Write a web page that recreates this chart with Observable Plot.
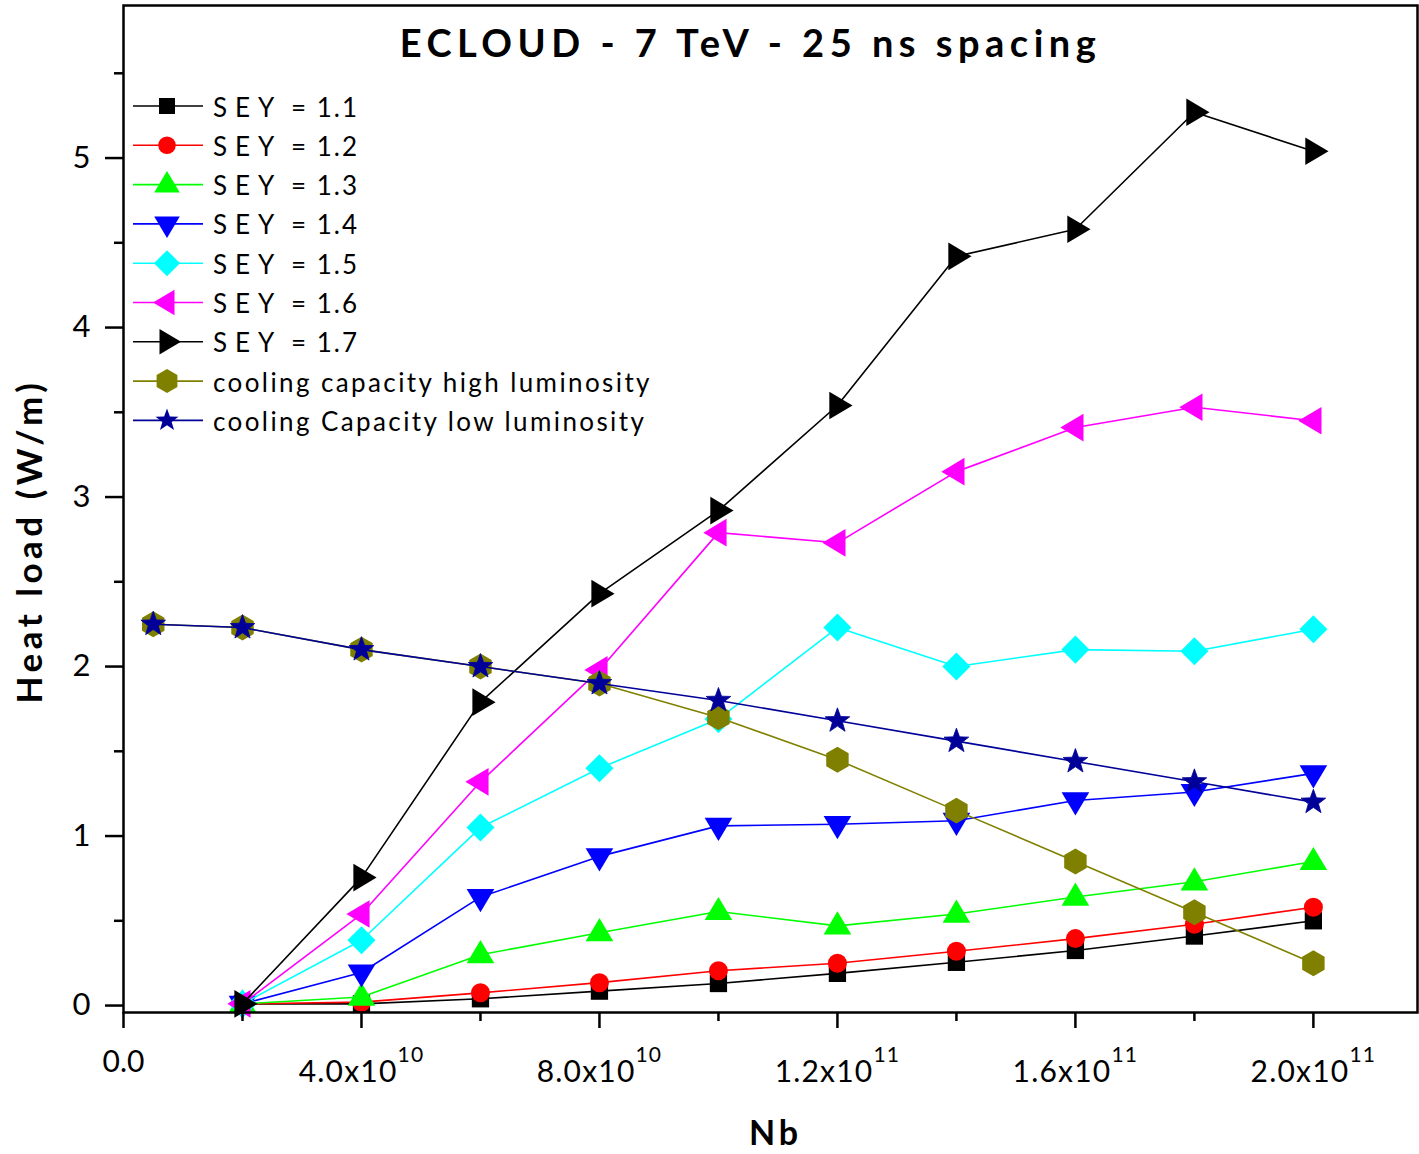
<!DOCTYPE html>
<html><head><meta charset="utf-8">
<script src="https://cdn.jsdelivr.net/npm/d3@7"></script>
<script src="https://cdn.jsdelivr.net/npm/@observablehq/plot@0.6"></script>
<style>
body{margin:0;background:#fff;}
#chart{position:relative;width:1419px;height:1154px;}
</style>
</head><body><div id="chart"></div>
<script>
// ---- data ----
const nb = [2e10, 4e10, 6e10, 8e10, 1e11, 1.2e11, 1.4e11, 1.6e11, 1.8e11, 2e11];
const sey11 = [0.01, 0.01, 0.04, 0.085, 0.13, 0.19, 0.255, 0.325, 0.41, 0.50];
const sey12 = [0.01, 0.02, 0.075, 0.135, 0.205, 0.25, 0.32, 0.395, 0.48, 0.58];
const sey13 = [0.01, 0.05, 0.30, 0.43, 0.555, 0.47, 0.54, 0.64, 0.73, 0.85];
const sey14 = [0.01, 0.195, 0.64, 0.88, 1.06, 1.07, 1.09, 1.21, 1.26, 1.37];
const sey15 = [0.01, 0.385, 1.05, 1.40, 1.69, 2.23, 2.00, 2.10, 2.09, 2.22];
const sey16 = [0.01, 0.54, 1.32, 1.98, 2.79, 2.73, 3.15, 3.41, 3.53, 3.45];
const sey17 = [0.01, 0.755, 1.79, 2.43, 2.92, 3.54, 4.42, 4.58, 5.27, 5.04];
const nbCooling = [0.5e10, 2e10, 4e10, 6e10, 8e10, 1e11, 1.2e11, 1.4e11, 1.6e11, 1.8e11, 2e11];
const coolingHigh = [2.25, 2.23, 2.10, 2.00, 1.90, 1.70, 1.45, 1.15, 0.85, 0.55, 0.25];
const coolingLow  = [2.25, 2.23, 2.10, 2.00, 1.90, 1.80, 1.68, 1.56, 1.44, 1.32, 1.20];

const seriesNames = ["SEY = 1.1","SEY = 1.2","SEY = 1.3","SEY = 1.4","SEY = 1.5","SEY = 1.6","SEY = 1.7",
  "cooling capacity high luminosity","cooling Capacity low luminosity"];
const seriesColors = ["#000000","#ff0000","#00ff00","#0000ff","#00ffff","#ff00ff","#000000","#808000","#000099"];

const xMajorTicks = [0, 4e10, 8e10, 1.2e11, 1.6e11, 2e11];
const xTickLabels = ["0.0", "4.0x10^10", "8.0x10^10", "1.2x10^11", "1.6x10^11", "2.0x10^11"];
const xMinorTicks = [2e10, 6e10, 1e11, 1.4e11, 1.8e11];
const yMajorTicks = [0, 1, 2, 3, 4, 5];
const yMinorTicks = [0.5, 1.5, 2.5, 3.5, 4.5, 5.5];

const titleText = "ECLOUD - 7 TeV - 25 ns spacing";
const xLabel = "Nb";
const yLabel = "Heat load (W/m)";

// ---- custom marker shapes ----
function mk(fn){ return {draw(ctx, size){ const k = Math.sqrt(size/Math.PI)/10; fn(ctx, k); }}; }
const symSquare = mk((c,k)=>{ c.rect(-8*k,-8*k,16*k,16*k); });
const symCircle = mk((c,k)=>{ c.moveTo(8.8*k,0); c.arc(0,0,8.8*k,0,2*Math.PI); });
const symTriUp = mk((c,k)=>{ c.moveTo(0,-13.5*k); c.lineTo(12.8*k,8*k); c.lineTo(-12.8*k,8*k); c.closePath(); });
const symTriDown = mk((c,k)=>{ c.moveTo(0,14*k); c.lineTo(12.8*k,-7.5*k); c.lineTo(-12.8*k,-7.5*k); c.closePath(); });
const symDiamond = mk((c,k)=>{ c.moveTo(0,-13*k); c.lineTo(13*k,0); c.lineTo(0,13*k); c.lineTo(-13*k,0); c.closePath(); });
const symTriLeft = mk((c,k)=>{ c.moveTo(-14*k,0); c.lineTo(7.5*k,-12.8*k); c.lineTo(7.5*k,12.8*k); c.closePath(); });
const symTriRight = mk((c,k)=>{ c.moveTo(14*k,0); c.lineTo(-7.5*k,-12.8*k); c.lineTo(-7.5*k,12.8*k); c.closePath(); });
const symHex = mk((c,k)=>{ const R=12*k; for(let i=0;i<6;i++){const a=-Math.PI/2+i*Math.PI/3; const px=R*Math.cos(a), py=R*Math.sin(a); if(i===0)c.moveTo(px,py); else c.lineTo(px,py);} c.closePath(); });
const symStar = mk((c,k)=>{ const R=12*k, r=4.9*k; for(let i=0;i<10;i++){const a=-Math.PI/2+i*Math.PI/5; const rr=i%2?r:R; const px=rr*Math.cos(a), py=rr*Math.sin(a); if(i===0)c.moveTo(px,py); else c.lineTo(px,py);} c.closePath(); });
const seriesSymbols = [symSquare, symCircle, symTriUp, symTriDown, symDiamond, symTriLeft, symTriRight, symHex, symStar];

const seriesData = [
  nb.map((x,i)=>({x, y: sey11[i]})),
  nb.map((x,i)=>({x, y: sey12[i]})),
  nb.map((x,i)=>({x, y: sey13[i]})),
  nb.map((x,i)=>({x, y: sey14[i]})),
  nb.map((x,i)=>({x, y: sey15[i]})),
  nb.map((x,i)=>({x, y: sey16[i]})),
  nb.map((x,i)=>({x, y: sey17[i]})),
  nbCooling.map((x,i)=>({x, y: coolingHigh[i]})),
  nbCooling.map((x,i)=>({x, y: coolingLow[i]}))
];

const marks = [];
seriesData.forEach((d, i) => {
  marks.push(Plot.line(d, {x: "x", y: "y", stroke: seriesColors[i], strokeWidth: 1.6}));
  marks.push(Plot.dot(d, {x: "x", y: "y", symbol: seriesSymbols[i], r: 10.8, fill: seriesColors[i],
    stroke: seriesColors[i], strokeWidth: i === 8 ? 0.8 : 0}));
});

const FONT = "Lato, 'Open Sans', sans-serif";
const chart = Plot.plot({
  width: 1419, height: 1154,
  marginLeft: 123, marginRight: 2, marginTop: 5, marginBottom: 142,
  style: {fontFamily: FONT, color: "#000", background: "#fff"},
  x: {domain: [0, 2.175e11], axis: null},
  y: {domain: [-0.041, 5.9], axis: null},
  marks: [
    ...marks,
    Plot.frame({stroke: "#000", strokeWidth: 2.5}),
    Plot.axisY(yMajorTicks, {tickSize: 18, tickPadding: 15, fontSize: 31, strokeWidth: 2.5, tickFormat: d => String(d), label: null}),
    Plot.axisY(yMinorTicks, {tickSize: 9, strokeWidth: 2.5, tickFormat: () => "", label: null}),
    Plot.axisX(xMajorTicks, {tickSize: 16, tickPadding: 22, fontSize: 30, strokeWidth: 2.5,
      tickFormat: d => xTickLabels[xMajorTicks.indexOf(d)], label: null}),
    Plot.axisX(xMinorTicks, {tickSize: 9, strokeWidth: 2.5, tickFormat: () => "", label: null}),
    Plot.text([titleText], {frameAnchor: "top", textAnchor: "middle", dx: -20, dy: 39, fontSize: 38, fontWeight: "bold", lineAnchor: "middle"}),
    Plot.text([yLabel], {frameAnchor: "left", textAnchor: "middle", dx: -93, dy: 32, rotate: -90, fontSize: 35, fontWeight: "bold", lineAnchor: "middle"}),
    Plot.text([xLabel], {frameAnchor: "bottom", textAnchor: "middle", dx: 5, dy: 122, fontSize: 34, fontWeight: "bold", lineAnchor: "middle"})
  ]
});
document.getElementById("chart").appendChild(chart);

// superscript exponents in x tick labels; letter spacing of titles
d3.select(chart).selectAll("text").each(function(){
  const t = this;
  const s = t.textContent;
  if (s.includes("^")) {
    const [b, e] = s.split("^");
    t.textContent = "";
    t.setAttribute("letter-spacing", 1.2);
    d3.select(t).append("tspan").attr("dy", 10).text(b);
    d3.select(t).append("tspan").attr("dy", -20).attr("font-size", 21).text(e);
  } else if (s === titleText) {
    t.setAttribute("letter-spacing", 5.5);
  } else if (s === yLabel) {
    t.setAttribute("letter-spacing", 4.5);
  } else if (s === xLabel) {
    t.setAttribute("letter-spacing", 4);
  }
});

// legend (inside the frame, top-left)
const svg = d3.select(chart);
const lg = svg.append("g").attr("font-family", FONT).attr("font-size", 26).attr("text-anchor", "start");
const legY0 = 106, legDy = 39.3;
seriesNames.forEach((name, i) => {
  const cy = legY0 + i * legDy;
  const g = lg.append("g").attr("transform", `translate(0,${cy})`);
  g.append("line").attr("x1", 133).attr("x2", 203).attr("y1", 0).attr("y2", 0)
    .attr("stroke", seriesColors[i]).attr("stroke-width", 1.6);
  const p = d3.path(); seriesSymbols[i].draw(p, Math.PI * 100);
  g.append("path").attr("d", p.toString()).attr("transform", "translate(167,0)").attr("fill", seriesColors[i]);
  const tx = g.append("text").attr("x", 213).attr("y", 10.5).attr("fill", "#000").attr("text-anchor", "start").attr("letter-spacing", 2.4);
  if (name.startsWith("SEY")) {
    tx.append("tspan").attr("letter-spacing", 8).text("SEY");
    tx.append("tspan").attr("letter-spacing", 2).text(" = " + name.slice(6));
  } else {
    tx.text(name);
  }
});
</script>
</body></html>
